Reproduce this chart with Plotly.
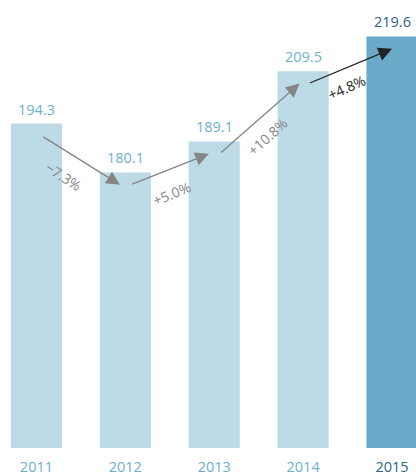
import plotly.graph_objects as go

# Data
years = ["2011", "2012", "2013", "2014", "2015"]
values = [194.3, 180.1, 189.1, 209.5, 219.6]

# Styling
LIGHT_BAR = "#bddae7"
DARK_BAR = "#6aaac8"
LIGHT_TXT = "#6db0d0"
DARK_TXT = "#2b6587"
GREY = "#858585"
BLACK = "#222222"
FONT = "Open Sans"

Y0, Y1 = 100, 230.2
xs = list(range(len(years)))
bar_colors = [LIGHT_BAR] * (len(years) - 1) + [DARK_BAR]
txt_colors = [LIGHT_TXT] * (len(years) - 1) + [DARK_TXT]

fig = go.Figure()
fig.add_trace(go.Bar(
    x=xs, y=[v - Y0 for v in values], base=Y0,
    width=0.575, marker=dict(color=bar_colors, line=dict(width=0)),
    hoverinfo="skip",
))

annotations = []
# value labels above the bars
for x, v, c in zip(xs, values, txt_colors):
    annotations.append(dict(
        x=x, y=v, xref="x", yref="y", text=f"{v:.1f}", showarrow=False,
        yanchor="bottom", yshift=3, font=dict(family=FONT, size=14.5, color=c),
    ))

# growth arrows between consecutive years
drop = 3.6  # data units below the bar tops
angles = [33, -22, -42, -24]
shifts = [(-17, -16), (2, -24), (8, -18), (-4, -21)]
end_off = [-0.06, -0.06, -0.04, 0.0]
for i in range(len(values) - 1):
    a, b = values[i], values[i + 1]
    col = BLACK if i == len(values) - 2 else GREY
    x0, y0 = i + 0.06, a - drop
    x1, y1 = i + 1 + end_off[i], b - drop
    annotations.append(dict(
        x=x1, y=y1, ax=x0, ay=y0, xref="x", yref="y", axref="x", ayref="y",
        showarrow=True, arrowhead=2, arrowsize=2.1, arrowwidth=1.3,
        arrowcolor=col, text="",
    ))
    pct = (b / a - 1) * 100
    label = f"+{pct:.1f}%" if pct >= 0 else f"\u2212{abs(pct):.1f}%"
    annotations.append(dict(
        x=(x0 + x1) / 2, y=(y0 + y1) / 2, xref="x", yref="y",
        text=label, showarrow=False, textangle=angles[i],
        xshift=shifts[i][0], yshift=shifts[i][1],
        font=dict(family=FONT, size=14, color=col),
    ))

ticktext = [f'<span style="color:{c}">{y}</span>' for y, c in zip(years, txt_colors)]

fig.update_layout(
    width=416, height=475,
    margin=dict(l=0, r=0, t=0, b=27),
    paper_bgcolor="white", plot_bgcolor="white",
    showlegend=False,
    annotations=annotations,
    xaxis=dict(
        range=[-0.41, 4.27], tickmode="array", tickvals=xs, ticktext=ticktext,
        showgrid=False, zeroline=False, showline=False, ticks="",
        ticklabelstandoff=8,
        tickfont=dict(family=FONT, size=14.5, color=LIGHT_TXT),
    ),
    yaxis=dict(range=[Y0, Y1], visible=False, showgrid=False, zeroline=False),
)

fig.write_html("out.html")
